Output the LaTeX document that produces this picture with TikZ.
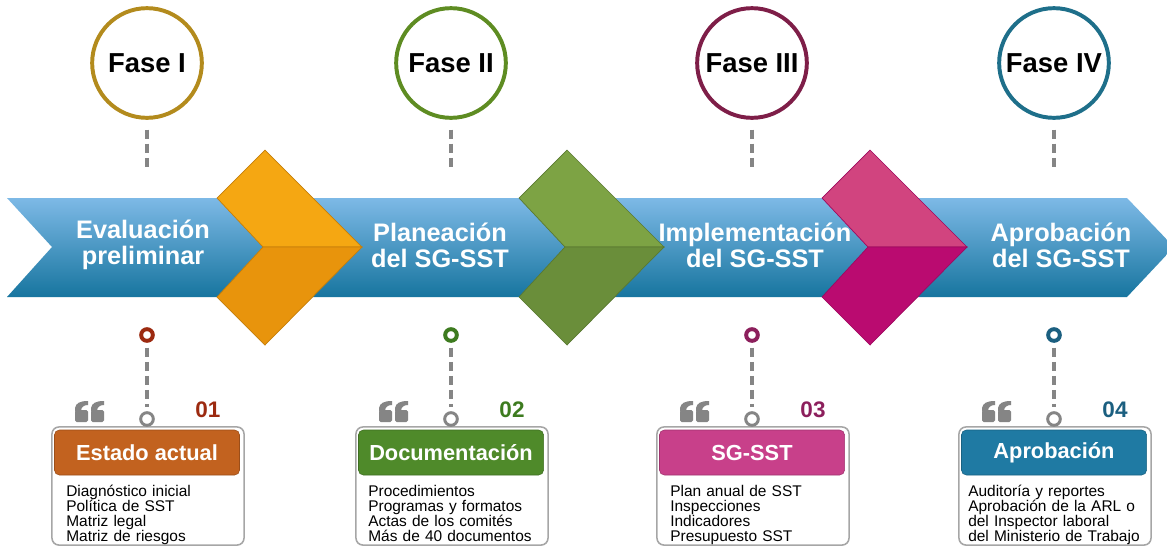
\documentclass[tikz,border=0pt]{standalone}
\usepackage{fontspec}
\setmainfont{Liberation Sans}

\definecolor{anillo1}{HTML}{B38B1D}
\definecolor{anillo2}{HTML}{5E8C22}
\definecolor{anillo3}{HTML}{7E1E48}
\definecolor{anillo4}{HTML}{1E6F8A}
\definecolor{tono1}{HTML}{9C2A10}
\definecolor{tono2}{HTML}{3D7B1F}
\definecolor{tono3}{HTML}{8C1F5C}
\definecolor{tono4}{HTML}{1B5F80}
\definecolor{cabeza1}{HTML}{C2621F}
\definecolor{cabeza2}{HTML}{4F8A2A}
\definecolor{cabeza3}{HTML}{C8408A}
\definecolor{cabeza4}{HTML}{1F7AA3}
\definecolor{naranjaA}{HTML}{F5A712}
\definecolor{naranjaB}{HTML}{E8940C}
\definecolor{verdeA}{HTML}{7DA344}
\definecolor{verdeB}{HTML}{6A8E3A}
\definecolor{rosaA}{HTML}{D1447F}
\definecolor{rosaB}{HTML}{BA0B70}
\definecolor{bandaA}{HTML}{7DB9E6}
\definecolor{bandaB}{HTML}{2A93C2}
\definecolor{bandaC}{HTML}{17759F}
\definecolor{gris}{HTML}{858585}

\tikzset{comilla/.pic={
  \foreach \d in {0,16} {
    \fill[gris, rounded corners=1.2pt] (\d,9) rectangle (\d+13,21);
    \fill[gris] (\d,10) -- (\d,7) .. controls (\d+1,2) and (\d+5,0) .. (\d+13,0)
      -- (\d+13,4) .. controls (\d+9,4) and (\d+6,6) .. (\d+6,10) -- cycle;
  }}}

\begin{document}
\begin{tikzpicture}[x=0.025cm, y=-0.025cm,
    fase/.style={circle, draw=#1, line width=2.8pt, fill=white, minimum size=78pt, inner sep=0pt,
      font=\fontsize{19.5}{20}\selectfont\bfseries},
    guion/.style={draw=gris, line width=2.3pt, dash pattern=on 6.5pt off 3.5pt},
    punto/.style={circle, draw=#1, line width=2.8pt, fill=white, minimum size=8.3pt, inner sep=0pt},
    union/.style={circle, draw=gris, line width=2.1pt, fill=white, minimum size=9pt, inner sep=0pt},
    caja/.style={draw=gray!70, line width=1.1pt, rounded corners=5pt, fill=white,
      minimum width=136.6pt, minimum height=84pt},
    titulo/.style={fill=#1, draw=#1!80!black, rounded corners=3.5pt, minimum width=131.6pt, minimum height=32pt,
      text=white, font=\fontsize{15.5}{16}\selectfont\bfseries},
    lista/.style={anchor=base west, text width=140pt, align=left, inner sep=0pt,
      font=\fontsize{11}{10.9}\selectfont},
    etapa/.style={text=white, align=center, inner sep=0pt, font=\fontsize{18}{18.6}\selectfont\bfseries},
    numero/.style={text=#1, inner sep=0pt, font=\fontsize{16}{16}\selectfont\bfseries}]

\useasboundingbox[fill=white] (0,0) rectangle (1167,548);

\shade[top color=bandaA, middle color=bandaB, bottom color=bandaC]
  (7,198) -- (1127,198) -- (1174,247) -- (1127,297) -- (7,297) -- (52,247) -- cycle;

\foreach \x/\ca/\cb in {265/naranjaA/naranjaB, 567/verdeA/verdeB, 870/rosaA/rosaB} {
  \fill[\ca, draw=\cb!85!black, line width=0.5pt] (\x,150) -- (\x+97,247) -- (\x-2,247) -- (\x-48,198) -- cycle;
  \fill[\cb, draw=\cb!85!black, line width=0.5pt] (\x+97,247) -- (\x,345) -- (\x-48,297) -- (\x-2,247) -- cycle;
}

\node[etapa] (etapa1) at (143,245) {Evaluación\\preliminar};
\node[etapa] (etapa2) at (440,245) {Planeación\\del SG-SST};
\node[etapa] (etapa3) at (755,245) {Implementación\\del SG-SST};
\node[etapa] (etapa4) at (1061,245) {Aprobación\\del SG-SST};

\foreach \i/\c/\f in {1/147/I, 2/451/II, 3/752/III, 4/1054/IV} {
  \node[fase=anillo\i] (fase\i) at (\c,63) {Fase \f};
  \coordinate (pie\i) at (\c,168);
  \draw[guion, shorten <=7pt] (fase\i) -- (pie\i);
  \node[punto=tono\i] (punto\i) at (\c,335) {};
  \node[caja] (caja\i) at (\c+1,486) {};
  \node[union] (union\i) at (\c,419) {};
  \draw[guion, shorten <=3.5pt, shorten >=3pt] (punto\i) -- (union\i);
  \pic at (\c-72,401) {comilla};
  \node[numero=tono\i] (num\i) at (\c+61,410) {0\i};
}

\node[titulo=cabeza1] (titulo1) at (147,452.5) {Estado actual};
\node[titulo=cabeza2] (titulo2) at (451,452.5) {Documentación};
\node[titulo=cabeza3] (titulo3) at (752,452.5) {SG-SST};
\node[titulo=cabeza4] (titulo4) at (1054,452.5) {Aprobación};

\node[lista] (lista1) at (66,496) {Diagnóstico inicial\\Política de SST\\Matriz legal\\Matriz de riesgos};
\node[lista] (lista2) at (368,496) {Procedimientos\\Programas y formatos\\Actas de los comités\\Más de 40 documentos};
\node[lista] (lista3) at (670,496) {Plan anual de SST\\Inspecciones\\Indicadores\\Presupuesto SST};
\node[lista] (lista4) at (968,496) {Auditoría y reportes\\Aprobación de la ARL o\\del Inspector laboral\\del Ministerio de Trabajo};
\end{tikzpicture}
\end{document}
